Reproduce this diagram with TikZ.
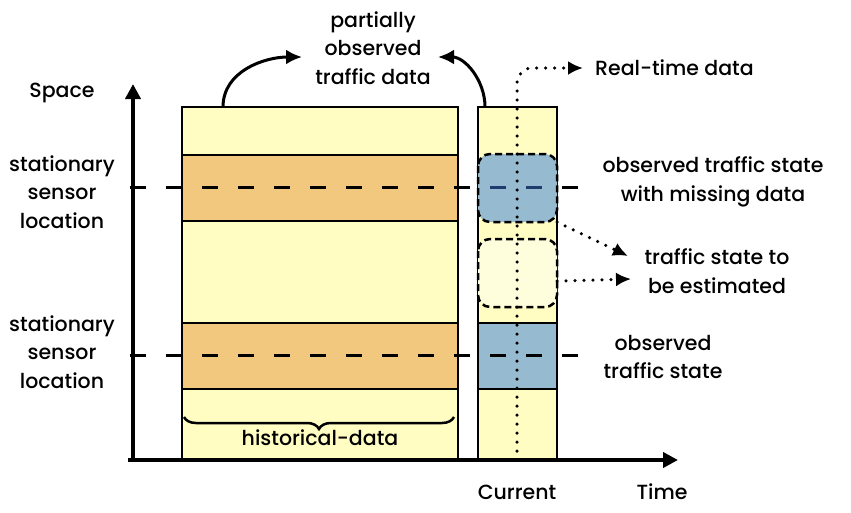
\documentclass[tikz,border=0pt]{standalone}
\usepackage{fontspec}
\setmainfont{Poppins}[UprightFont={* Medium}]
\usetikzlibrary{arrows.meta,decorations.pathreplacing}

\definecolor{cellyellow}{RGB}{255,253,194}
\definecolor{paleyellow}{RGB}{255,254,220}
\definecolor{sensororange}{RGB}{241,200,126}
\definecolor{obsblue}{RGB}{150,187,208}
\definecolor{darkline}{RGB}{30,60,110}

\begin{document}
\begin{tikzpicture}[x=1pt, y=-1pt,
    lbl/.style={align=center, font=\fontsize{20.5}{28.5}\selectfont, inner sep=0pt},
    cell/.style={draw, line width=2pt},
    guessbox/.style={draw, line width=2.5pt, dash pattern=on 7pt off 4pt, rounded corners=12pt},
    sensorline/.style={line width=3pt, dash pattern=on 16pt off 20pt},
    axis/.style={line width=4pt, -{Triangle[length=15pt,width=15pt]}},
    flow/.style={line width=3pt, -{Latex[length=16pt,width=15pt]}},
    dotarrow/.style={line width=3.5pt, line cap=round, dash pattern=on 0pt off 9pt,
        -{Latex[length=15pt,width=14pt]}}]
    \useasboundingbox (0,0) rectangle (851,512);

    % historical block with the two sensor bands
    \draw[cell, fill=cellyellow] (182,107) rectangle (458,460);
    \draw[cell, fill=sensororange] (182,155) rectangle (458,221);
    \draw[cell, fill=sensororange] (182,323) rectangle (458,389);

    % current time column
    \draw[cell, fill=cellyellow] (478,107) rectangle (557,460);
    \draw[cell, fill=obsblue] (478,323) rectangle (557,389);
    \draw[guessbox, fill=paleyellow] (478,239) rectangle (557,307);
    \fill[obsblue, rounded corners=12pt] (478,154) rectangle (557,222);

    % sensor locations
    \draw[sensorline] (130,187) -- (578,187);
    \draw[sensorline] (130,355) -- (578,355);
    \begin{scope}
        \clip[rounded corners=12pt] (478,154) rectangle (557,222);
        \draw[sensorline, draw=darkline] (130,187) -- (578,187);
    \end{scope}
    \draw[guessbox] (478,154) rectangle (557,222);

    % axes
    \draw[axis] (133,460) -- (133,84);
    \draw[axis] (128,460) -- (678,460);

    % labels
    \node[lbl] (space) at (62,93) {Space};
    \node[lbl] (sensorA) at (62,192) {stationary\\sensor\\location};
    \node[lbl] (sensorB) at (62,352) {stationary\\sensor\\location};
    \node[lbl] (partial) at (373,48) {partially\\observed\\traffic data};
    \node[lbl, anchor=west] (realtime) at (595,68) {Real-time data};
    \node[lbl] (missing) at (713,182) {observed traffic state\\with missing data};
    \node[lbl] (estimate) at (717,271) {traffic state to\\be estimated};
    \node[lbl] (observed) at (663,357) {observed\\traffic state};
    \node[lbl] (historical) at (320,438) {historical-data};
    \node[lbl] (current) at (517,492) {Current};
    \node[lbl] (time) at (662,492) {Time};

    % arrows to the partially observed data
    \coordinate (histtop) at (223,107);
    \coordinate (curtop) at (485,107);
    \coordinate (partL) at (302,57);
    \coordinate (partR) at (438,57);
    \draw[flow] (histtop) to[out=90,in=180] (partL);
    \draw[flow] (curtop) to[out=90,in=0] (partR);

    % real-time data line
    \coordinate (rtbottom) at (517,451);
    \coordinate (rtend) at (583,68);
    \draw[dotarrow] (rtbottom) -- (517,84) to[out=90,in=180] (532,68) -- (rtend);

    % pointers to the estimated state
    \coordinate (missingcorner) at (557,222);
    \coordinate (guessside) at (557,281);
    \draw[dotarrow] (missingcorner) -- (628,256);
    \draw[dotarrow] (guessside) -- (631,279);

    % brace over the historical data
    \draw[line width=2.5pt, decorate, decoration={brace, mirror, amplitude=12pt}]
        (184,417) -- (454,417);
\end{tikzpicture}
\end{document}
